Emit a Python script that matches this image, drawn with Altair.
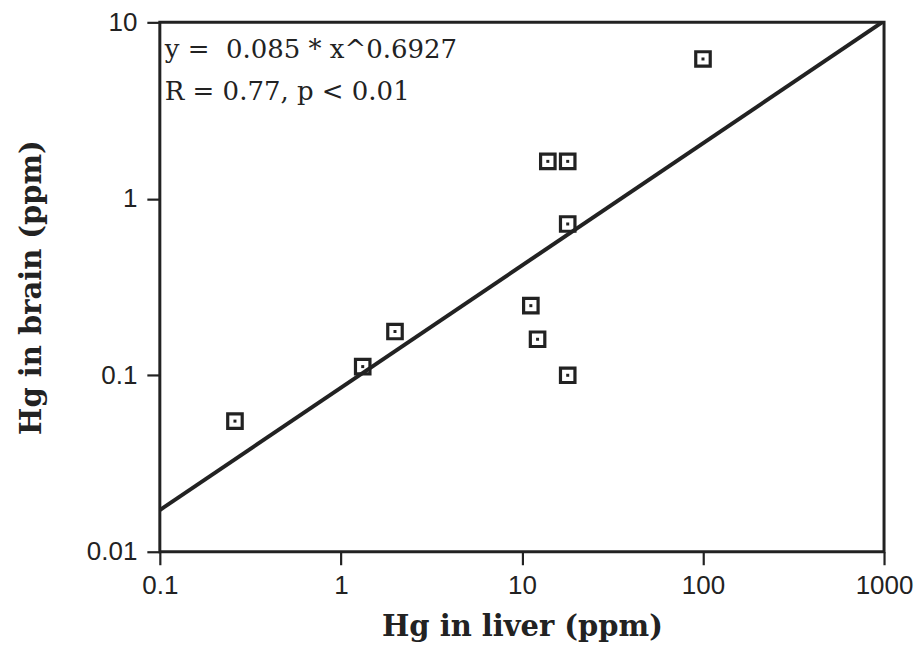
import altair as alt
import pandas as pd

# Scatter data
liver = [0.26, 1.32, 1.99, 11.2, 12.2, 17.9, 17.9, 13.9, 17.9, 100.0]
brain = [0.055, 0.112, 0.177, 0.248, 0.16, 0.10, 0.72, 1.63, 1.63, 6.2]

# Fitted power law shown on the chart
coef_a = 0.085
coef_b = 0.6927
fit_x = [0.1, 1000.0]

x_ticks = [0.1, 1, 10, 100, 1000]
y_ticks = [0.01, 0.1, 1, 10]

annot_lines = ["y =\u00a0 0.085 * x^0.6927", "R = 0.77, p < 0.01"]
annot_x = [0.1065, 0.1065]
annot_y = [6.27, 3.63]

pts = pd.DataFrame({"liver": liver, "brain": brain})
fit = pd.DataFrame({"liver": fit_x})
ann = pd.DataFrame({"t": annot_lines, "liver": annot_x, "brain": annot_y})

xs = alt.Scale(type="log", domain=[0.1, 1000], nice=False)
ys = alt.Scale(type="log", domain=[0.01, 10], nice=False)

common = dict(format="~g", grid=False,
              labelFont="Liberation Sans", labelFontSize=26, labelColor="#222",
              titleFont="DejaVu Serif", titleFontWeight="bold", titleFontSize=29,
              titleColor="#222", tickSize=13, tickWidth=2.2, tickColor="#222",
              domain=False, labelFlush=False)
xaxis = alt.Axis(values=x_ticks, title="Hg in liver (ppm)", labelPadding=8,
                 titlePadding=14, **common)
yaxis = alt.Axis(values=y_ticks, title="Hg in brain (ppm)", labelPadding=10,
                 titlePadding=40, **common)

line = alt.Chart(fit).transform_calculate(
    brain=f"{coef_a} * pow(datum.liver, {coef_b})"
).mark_line(color="#222", strokeWidth=4, clip=True).encode(
    x=alt.X("liver:Q", scale=xs, axis=xaxis),
    y=alt.Y("brain:Q", scale=ys, axis=yaxis),
)

squares = alt.Chart(pts).mark_square(filled=False, stroke="#222", strokeWidth=3.2, size=210,
                                     opacity=1).encode(
    x=alt.X("liver:Q", scale=xs),
    y=alt.Y("brain:Q", scale=ys),
)
dots = alt.Chart(pts).mark_square(filled=True, color="#222", size=9, opacity=1).encode(
    x=alt.X("liver:Q", scale=xs),
    y=alt.Y("brain:Q", scale=ys),
)

text = alt.Chart(ann).mark_text(align="left", baseline="alphabetic", font="DejaVu Serif",
                                fontSize=26, color="#222").encode(
    x=alt.X("liver:Q", scale=xs),
    y=alt.Y("brain:Q", scale=ys),
    text="t:N",
)

chart = alt.layer(line, squares, dots, text).properties(
    width=725, height=530,
    autosize=alt.AutoSizeParams(type="none"),
    padding={"left": 152, "top": 14, "right": 30, "bottom": 100},
    background="white",
).configure_view(stroke="#222", strokeWidth=3)

chart.save("out.html", embed_options={"renderer": "svg", "actions": False})
